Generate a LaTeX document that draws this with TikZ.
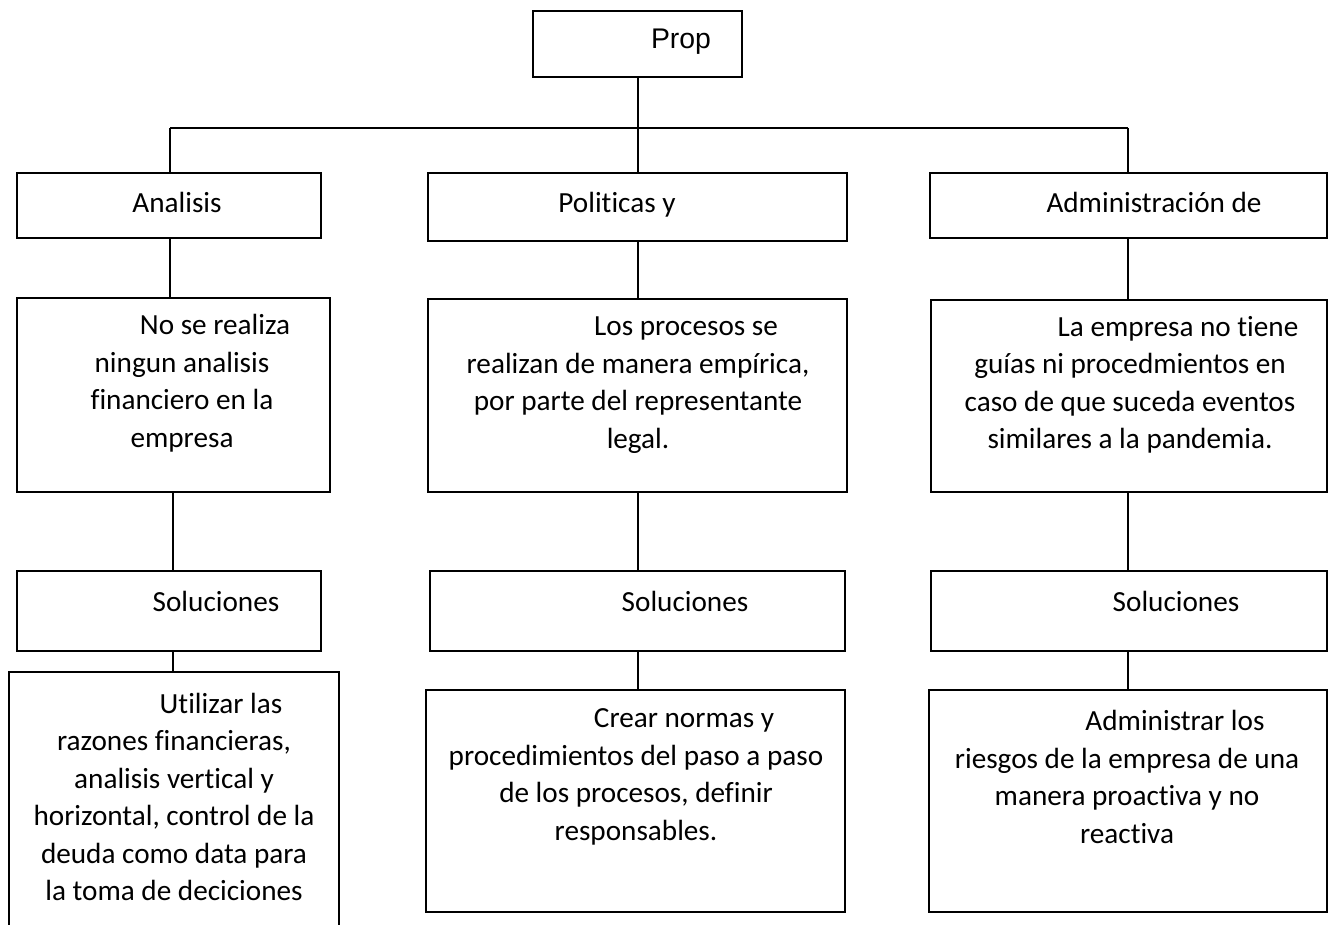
\documentclass[tikz,border=0pt]{standalone}
\usepackage{fontspec}
\setmainfont{Carlito}[Ligatures={NoCommon}]
\newfontfamily\arialf{Liberation Sans}
\usetikzlibrary{fit}
\begin{document}
\begin{tikzpicture}[x=0.5pt,y=-0.5pt,
  box/.style={draw=black,line width=1pt,inner sep=0pt,fill=none},
  txt/.style={align=center,inner sep=0pt,font=\fontsize{14.6}{18.75}\selectfont},
  conn/.style={draw=black,line width=0.6pt}]
\clip (0,0) rectangle (1334,925);
% boxes
\node[box,fit={(533,11) (742,77)}] (top) {};
\node[box,fit={(17,173) (321,238)}] (a1) {};
\node[box,fit={(428,173) (847,241)}] (p1) {};
\node[box,fit={(930,173) (1327,238)}] (d1) {};
\node[box,fit={(17,298) (330,492)}] (a2) {};
\node[box,fit={(428,299) (847,492)}] (p2) {};
\node[box,fit={(931,300) (1327,492)}] (d2) {};
\node[box,fit={(17,571) (321,651)}] (a3) {};
\node[box,fit={(430,571) (845,651)}] (p3) {};
\node[box,fit={(931,571) (1327,651)}] (d3) {};
\node[box,fit={(9,672) (339,940)}] (a4) {};
\node[box,fit={(426,690) (845,912)}] (p4) {};
\node[box,fit={(929,690) (1327,912)}] (d4) {};
% connector columns
\coordinate (hl) at (170,128);
\coordinate (hr) at (1128,128);
\coordinate (cm) at (638,128);
\coordinate (ca) at (173,0);
\coordinate (cp) at (638,0);
\coordinate (cd) at (1128,0);
\draw[conn] (top.south -| cm) -- (p1.north -| cm);
\draw[conn] (hl) -- (hr);
\draw[conn] (hl) -- (a1.north -| hl);
\draw[conn] (hr) -- (d1.north -| hr);
\draw[conn] (a1.south -| hl) -- (a2.north -| hl);
\draw[conn] (p1.south -| cp) -- (p2.north -| cp);
\draw[conn] (d1.south -| cd) -- (d2.north -| cd);
\draw[conn] (a2.south -| ca) -- (a3.north -| ca);
\draw[conn] (p2.south -| cp) -- (p3.north -| cp);
\draw[conn] (d2.south -| cd) -- (d3.north -| cd);
\draw[conn] (a3.south -| ca) -- (a4.north -| ca);
\draw[conn] (p3.south -| cp) -- (p4.north -| cp);
\draw[conn] (d3.south -| cd) -- (d4.north -| cd);
% texts
\node[inner sep=0pt,font=\arialf\fontsize{14.2}{17}\selectfont] (ttop) at (681,42) {Prop};
\node[txt] (ta1) at (177,202) {Analisis};
\node[txt] (tp1) at (617,205) {Politicas y};
\node[txt] (td1) at (1154,202) {Administración de};
\node[txt] (ta2) at (182,383) {\hspace*{33pt}No se realiza\\ningun analisis\\financiero en la\\empresa};
\node[txt] (tp2) at (638,385) {\hspace*{48pt}Los procesos se\\realizan de manera empírica,\\por parte del representante\\legal.};
\node[txt] (td2) at (1130,385) {\hspace*{48pt}La empresa no tiene\\guías ni procedmientos en\\caso de que suceda eventos\\similares a la pandemia.};
\node[txt] (ta3) at (216,601) {Soluciones};
\node[txt] (tp3) at (685,601) {Soluciones};
\node[txt] (td3) at (1176,601) {Soluciones};
\node[txt] (ta4) at (174,797) {\hspace*{47pt}Utilizar las\\razones financieras,\\analisis vertical y\\horizontal, control de la\\deuda como data para\\la toma de deciciones};
\node[txt] (tp4) at (636,777) {\hspace*{48pt}Crear normas y\\procedimientos del paso a paso\\de los procesos, definir\\responsables.};
\node[txt] (td4) at (1127,777) {\hspace*{48pt}Administrar los\\riesgos de la empresa de una\\manera proactiva y no\\reactiva};
\end{tikzpicture}
\end{document}
